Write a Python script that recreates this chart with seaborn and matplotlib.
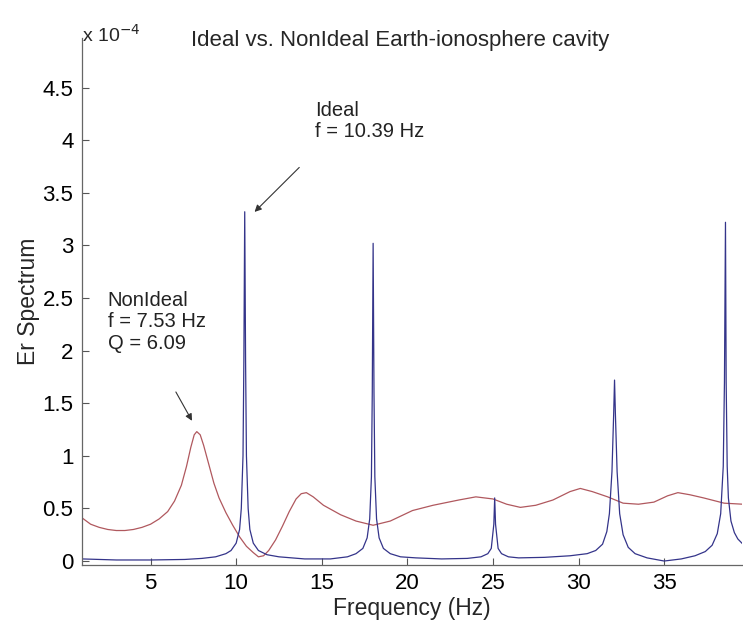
import numpy as np
import pandas as pd
import matplotlib
matplotlib.use("Agg")
import matplotlib.pyplot as plt
import seaborn as sns

# Ideal cavity spectrum (x 1e-4)
ideal_f = [1.0, 3.0, 5.0, 7.0, 8.0, 8.8, 9.4, 9.7, 10.0, 10.2, 10.3, 10.4, 10.45, 10.5, 10.55, 10.6, 10.7, 10.8,
           11.0, 11.3, 11.8, 12.5, 14.0, 15.5,
           16.5, 17.0, 17.4, 17.65, 17.8, 17.9, 17.95, 18.0, 18.05, 18.1, 18.2, 18.35, 18.6, 19.0, 19.6, 20.5,
           22.0, 23.5, 24.3, 24.7, 24.9, 25.05, 25.1, 25.15, 25.3, 25.5, 25.9, 26.5, 28.0,
           29.5, 30.5, 31.0, 31.4, 31.65, 31.8, 31.95, 32.05, 32.1, 32.15, 32.25, 32.4, 32.6, 32.9, 33.3, 34.0,
           35.0, 36.0, 36.8, 37.4, 37.8, 38.1, 38.3, 38.45, 38.52, 38.58, 38.62, 38.68, 38.75, 38.9, 39.1, 39.3, 39.6]
ideal_v = [0.02, 0.01, 0.01, 0.015, 0.025, 0.04, 0.07, 0.1, 0.17, 0.3, 0.5, 1.0, 1.9, 3.32, 1.9, 1.0, 0.5, 0.3,
           0.17, 0.1, 0.06, 0.04, 0.02, 0.02,
           0.04, 0.07, 0.12, 0.22, 0.4, 0.8, 1.6, 3.02, 1.6, 0.8, 0.4, 0.22, 0.12, 0.07, 0.04, 0.03,
           0.02, 0.025, 0.04, 0.07, 0.12, 0.35, 0.6, 0.35, 0.12, 0.07, 0.04, 0.03, 0.035,
           0.05, 0.07, 0.1, 0.16, 0.28, 0.45, 0.85, 1.4, 1.72, 1.4, 0.85, 0.45, 0.25, 0.13, 0.07, 0.03,
           0.0, 0.02, 0.05, 0.09, 0.15, 0.26, 0.45, 0.9, 1.7, 3.22, 1.7, 0.9, 0.6, 0.38, 0.27, 0.21, 0.16]

# Non-ideal cavity spectrum (x 1e-4)
non_f = [1.0, 1.5, 2.0, 2.5, 3.0, 3.5, 4.0, 4.5, 5.0, 5.5, 6.0, 6.4, 6.8, 7.1, 7.35, 7.55, 7.7, 7.9, 8.1, 8.4,
         8.7, 9.0, 9.4, 9.8, 10.2, 10.6, 11.0, 11.3, 11.6, 11.9, 12.3, 12.7, 13.1, 13.5, 13.8, 14.1, 14.5,
         15.1, 16.1, 17.0, 18.0, 19.0, 20.3, 21.5, 23.0, 24.0, 25.0, 25.8, 26.6, 27.5, 28.5, 29.5, 30.1,
         30.8, 31.7, 32.6, 33.5, 34.4, 35.2, 35.8, 36.5, 37.3, 38.5, 39.6]
non_v = [0.41, 0.35, 0.32, 0.3, 0.29, 0.29, 0.3, 0.32, 0.35, 0.4, 0.47, 0.57, 0.72, 0.9, 1.08, 1.2, 1.23, 1.2,
         1.1, 0.92, 0.74, 0.6, 0.46, 0.34, 0.23, 0.14, 0.08, 0.04, 0.05, 0.1, 0.2, 0.33, 0.47, 0.59, 0.64,
         0.65, 0.61, 0.53, 0.44, 0.38, 0.34, 0.38, 0.48, 0.53, 0.58, 0.61, 0.59, 0.54, 0.51, 0.53, 0.58,
         0.66, 0.69, 0.66, 0.61, 0.55, 0.54, 0.56, 0.62, 0.65, 0.63, 0.6, 0.55, 0.54]

sns.set_style("white")
plt.rcParams['font.family'] = ['Liberation Sans', 'DejaVu Sans']

fig = plt.figure(figsize=(7.43, 6.26), dpi=100)
ax = fig.add_axes([0.110, 0.0974, 0.889, 0.8416])

df_i = pd.DataFrame({"f": ideal_f, "v": ideal_v})
df_n = pd.DataFrame({"f": non_f, "v": non_v})
sns.lineplot(data=df_n, x="f", y="v", ax=ax, color="#b0585e", linewidth=0.9, sort=False)
sns.lineplot(data=df_i, x="f", y="v", ax=ax, color="#34348a", linewidth=0.9, sort=False)

ax.set_xlim(0.98, 39.56)
ax.set_ylim(-0.038, 4.97)
ax.set_xticks([5, 10, 15, 20, 25, 30, 35])
ax.set_yticks([0, 0.5, 1, 1.5, 2, 2.5, 3, 3.5, 4, 4.5])
ax.set_yticklabels(["0", "0.5", "1", "1.5", "2", "2.5", "3", "3.5", "4", "4.5"])
ax.tick_params(direction="in", length=5, width=0.8, colors="#555555", labelcolor="black", labelsize=16,
               bottom=True, left=True, pad=6)
for s in ["top", "right"]:
    ax.spines[s].set_visible(False)
for s in ["left", "bottom"]:
    ax.spines[s].set_color("#666666")
    ax.spines[s].set_linewidth(0.9)

ax.set_xlabel("Frequency (Hz)", fontsize=16.5, labelpad=2)
ax.set_ylabel("Er Spectrum", fontsize=16.5, labelpad=2)
fig.text(0.538, 0.936, "Ideal vs. NonIdeal Earth-ionosphere cavity", ha="center", va="center", fontsize=16)
fig.text(0.111, 0.944, r"x 10$^{-4}$", ha="left", va="center", fontsize=14)

ax.annotate("", xy=(10.96, 3.30), xytext=(13.8, 3.76),
            arrowprops=dict(arrowstyle="-|>", color="#333333", lw=0.8, mutation_scale=10))
ax.text(14.6, 3.99, "Ideal\nf = 10.39 Hz", fontsize=14.5, ha="left", va="bottom", linespacing=1.15,
        color="#222222")

ax.annotate("", xy=(7.5, 1.31), xytext=(6.4, 1.63),
            arrowprops=dict(arrowstyle="-|>", color="#333333", lw=0.8, mutation_scale=10))
ax.text(2.5, 1.98, "NonIdeal\nf = 7.53 Hz\nQ = 6.09", fontsize=14.5, ha="left", va="bottom", linespacing=1.15,
        color="#222222")

fig.savefig("out.png", dpi=100)
